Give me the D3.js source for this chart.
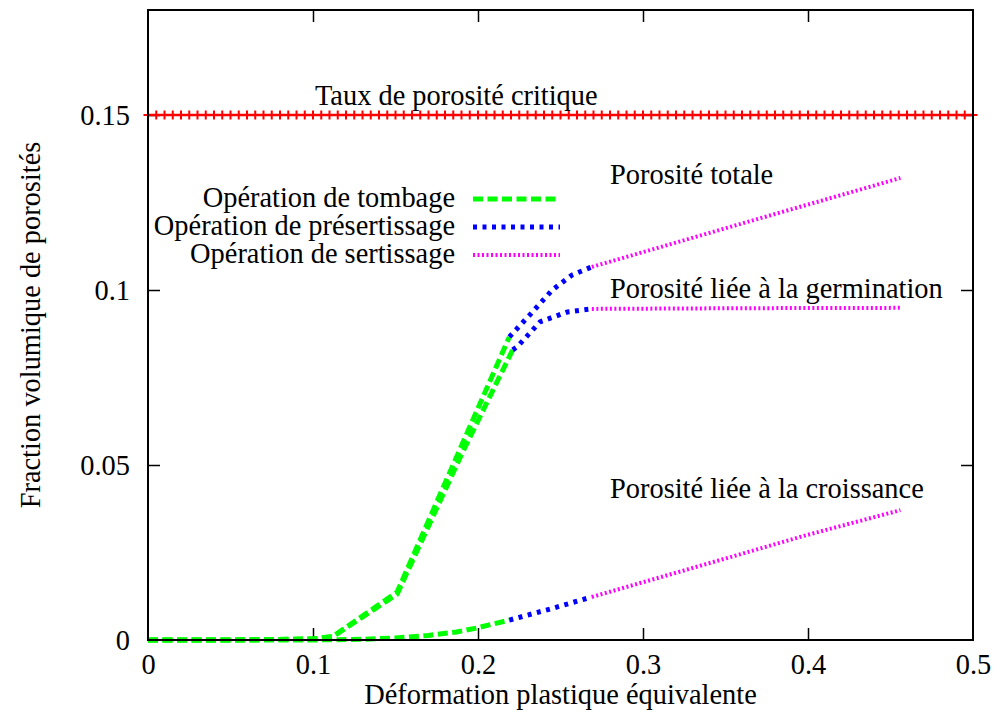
<!DOCTYPE html>
<html><head><meta charset="utf-8">
<script src="https://cdn.jsdelivr.net/npm/d3@7"></script>
<style>
html,body{margin:0;padding:0;background:#fff;}
svg{display:block;}
text{font-family:"Liberation Serif","Times New Roman",serif;fill:#000;}
</style></head>
<body>
<svg id="chart" width="998" height="715"></svg>
<script>
// ---- data ----
const xTicks = [0, 0.1, 0.2, 0.3, 0.4, 0.5];
const yTicks = [0, 0.05, 0.1, 0.15];
const xLabel = "Déformation plastique équivalente";
const yLabel = "Fraction volumique de porosités";
const seriesNames = ["Opération de tombage", "Opération de présertissage", "Opération de sertissage"];
const criticalValue = 0.15;
const criticalLabel = "Taux de porosité critique";
const curveLabels = ["Porosité totale", "Porosité liée à la germination", "Porosité liée à la croissance"];

// Opération de tombage (green)
const tombTotaleX = [0, 0.05, 0.1, 0.112, 0.151, 0.19, 0.219];
const tombTotaleY = [0, 0, 0.0003, 0.001, 0.0137, 0.0555, 0.0866];
const tombGermX = [0, 0.05, 0.1, 0.112, 0.151, 0.19, 0.221];
const tombGermY = [0, 0, 0.0003, 0.001, 0.0131, 0.053, 0.0829];
const tombCroisX = [0, 0.1, 0.13, 0.15, 0.17, 0.187, 0.199, 0.219];
const tombCroisY = [0, 0, 0.0002, 0.0006, 0.0013, 0.0023, 0.0034, 0.0057];
// Opération de présertissage (blue)
const presTotaleX = [0.219, 0.233, 0.245, 0.257, 0.269];
const presTotaleY = [0.0866, 0.0937, 0.1, 0.1043, 0.1066];
const presGermX = [0.221, 0.2236, 0.2376, 0.254, 0.269];
const presGermY = [0.0829, 0.0837, 0.0909, 0.0937, 0.0946];
const presCroisX = [0.219, 0.244, 0.269];
const presCroisY = [0.0057, 0.0089, 0.0123];
// Opération de sertissage (magenta)
const sertTotaleX = [0.269, 0.36, 0.456];
const sertTotaleY = [0.1066, 0.119, 0.132];
const sertGermX = [0.269, 0.36, 0.456];
const sertGermY = [0.0946, 0.0948, 0.0949];
const sertCroisX = [0.269, 0.3994, 0.456];
const sertCroisY = [0.0123, 0.030, 0.0371];
// critical-line marker positions
const criticalX = d3.range(0, 101).map(i => i * 0.005);

// ---- layout ----
const W = 998, H = 715;
const m = {left: 148, right: 25, top: 10, bottom: 75};
const iw = W - m.left - m.right, ih = H - m.top - m.bottom;
const FS = 28.4;

const svg = d3.select("#chart");
const g = svg.append("g").attr("transform", `translate(${m.left},${m.top})`);
const x = d3.scaleLinear().domain([0, 0.5]).range([0, iw]);
const y = d3.scaleLinear().domain([0, 0.18]).range([ih, 0]);
const fmt = d3.format("~g");

const styles = [
  {color: "#00ff00", dash: "10,4.5", width: 5},
  {color: "#0000ff", dash: "4,5.5", width: 5},
  {color: "#ff00ff", dash: "2,2.5", width: 4}
];

// axes (ticks inward, mirrored)
const TL = 12;
function styleAxis(sel){
  sel.select(".domain").remove();
  sel.selectAll(".tick line").attr("stroke", "#000").attr("stroke-width", 1.5);
  sel.selectAll(".tick text").style("font-size", FS + "px").attr("fill", "#000");
}
g.append("g").attr("transform", `translate(0,${ih})`)
  .call(d3.axisBottom(x).tickValues(xTicks).tickFormat(fmt).tickSizeInner(-TL).tickSizeOuter(0).tickPadding(22))
  .call(styleAxis)
  .call(s => s.selectAll(".tick text").attr("dy", "0.71em").attr("y", 14));
g.append("g")
  .call(d3.axisTop(x).tickValues(xTicks).tickSizeInner(-TL).tickSizeOuter(0).tickFormat(""))
  .call(styleAxis);
g.append("g")
  .call(d3.axisLeft(y).tickValues(yTicks).tickFormat(fmt).tickSizeInner(-TL).tickSizeOuter(0))
  .call(styleAxis)
  .call(s => s.selectAll(".tick text").attr("x", -18));
g.append("g").attr("transform", `translate(${iw},0)`)
  .call(d3.axisRight(y).tickValues(yTicks).tickSizeInner(-TL).tickSizeOuter(0).tickFormat(""))
  .call(styleAxis);
g.selectAll(".tick").filter(d => d === 0 || d === 0.5).selectAll("line").attr("opacity", 0);

// axis titles
svg.append("text").attr("x", m.left + iw / 2).attr("y", 704).attr("text-anchor", "middle")
  .style("font-size", FS + "px").text(xLabel);
svg.append("text").attr("transform", `translate(40,${m.top + ih / 2}) rotate(-90)`)
  .attr("text-anchor", "middle").style("font-size", FS + "px").text(yLabel);

// critical line
g.append("line").attr("x1", x(0)).attr("x2", x(0.5)).attr("y1", y(criticalValue)).attr("y2", y(criticalValue))
  .attr("stroke", "#ff0000").attr("stroke-width", 2.5);
g.append("g").selectAll("path").data(criticalX).join("path")
  .attr("d", d => `M${x(d) - 4.5},${y(criticalValue)}h9M${x(d)},${y(criticalValue) - 4.5}v9`)
  .attr("stroke", "#ff0000").attr("stroke-width", 2).attr("fill", "none");
g.append("text").attr("x", 315 - m.left).attr("y", 105 - m.top).style("font-size", FS + "px").text(criticalLabel);

// curves
const line = d3.line().x(d => x(d[0])).y(d => y(d[1]));
const curves = [
  [tombTotaleX, tombTotaleY, 0], [tombGermX, tombGermY, 0], [tombCroisX, tombCroisY, 0],
  [presTotaleX, presTotaleY, 1], [presGermX, presGermY, 1], [presCroisX, presCroisY, 1],
  [sertTotaleX, sertTotaleY, 2], [sertGermX, sertGermY, 2], [sertCroisX, sertCroisY, 2]
];
curves.forEach(([xs, ys, s]) => {
  g.append("path").datum(xs.map((v, i) => [v, ys[i]]))
    .attr("d", line).attr("fill", "none")
    .attr("stroke", styles[s].color).attr("stroke-width", styles[s].width)
    .attr("stroke-dasharray", styles[s].dash).attr("stroke-linejoin", "round");
});

// frame
g.append("rect").attr("width", iw).attr("height", ih).attr("fill", "none")
  .attr("stroke", "#000").attr("stroke-width", 2);

// legend
const legY = [199, 227, 255];
seriesNames.forEach((name, i) => {
  svg.append("text").attr("x", 455).attr("y", legY[i] + 8).attr("text-anchor", "end")
    .style("font-size", FS + "px").text(name);
  svg.append("line").attr("x1", 473).attr("x2", 560).attr("y1", legY[i]).attr("y2", legY[i])
    .attr("stroke", styles[i].color).attr("stroke-width", styles[i].width)
    .attr("stroke-dasharray", styles[i].dash);
});

// curve labels
const labelPos = [[610, 184], [610, 298], [610, 498]];
curveLabels.forEach((t, i) => {
  svg.append("text").attr("x", labelPos[i][0]).attr("y", labelPos[i][1])
    .style("font-size", FS + "px").text(t);
});
</script>
</body></html>
